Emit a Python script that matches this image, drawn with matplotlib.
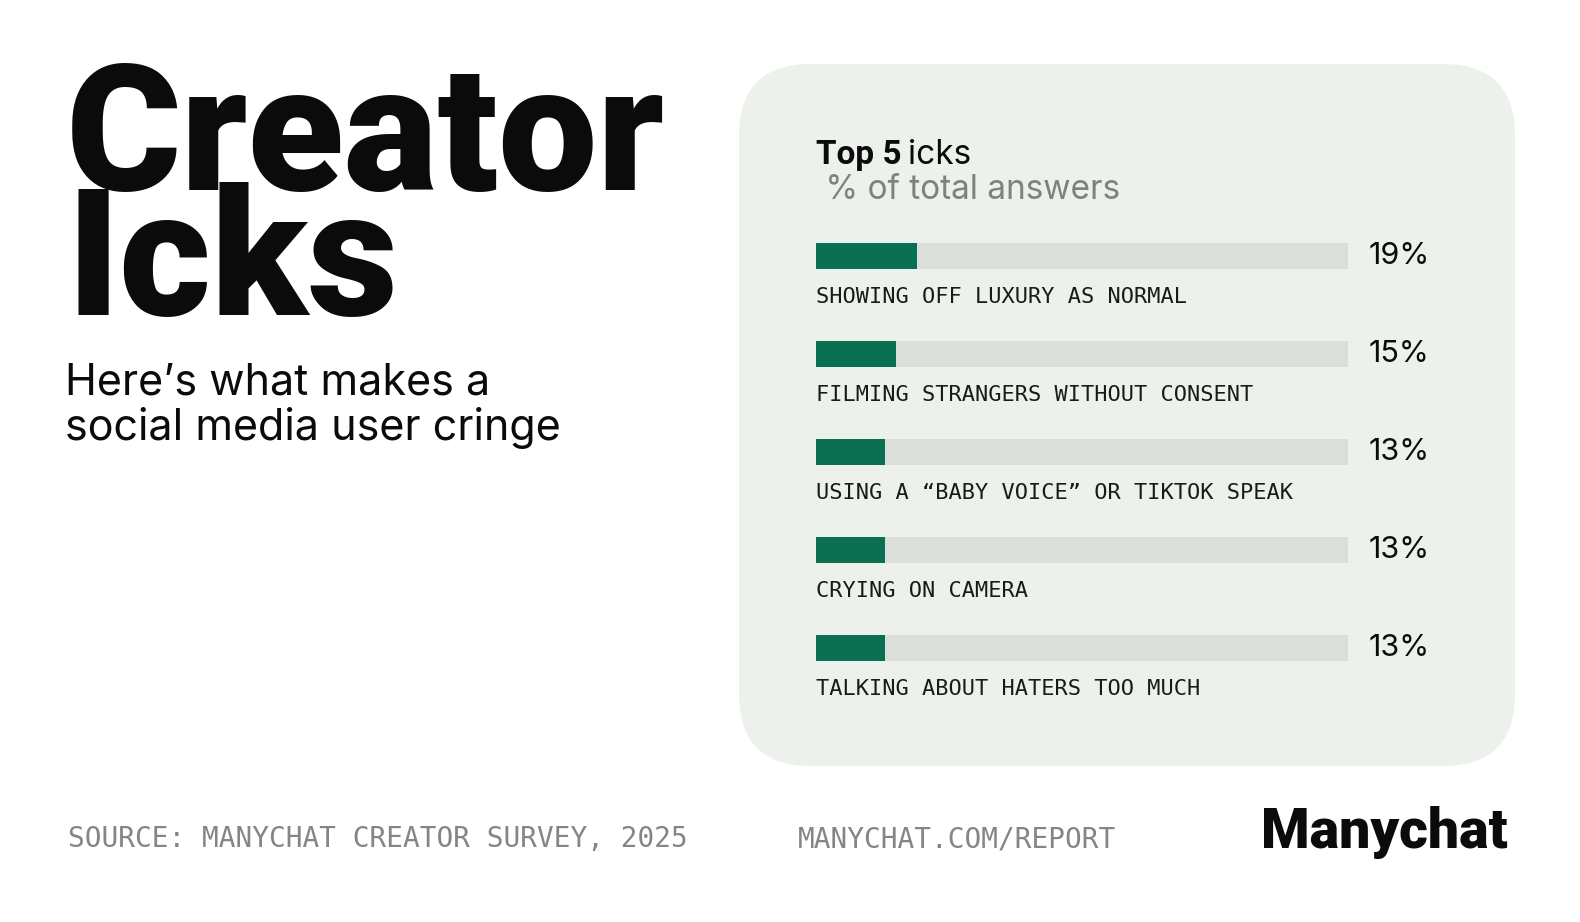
import matplotlib
matplotlib.use("Agg")
import matplotlib.pyplot as plt
from matplotlib.patches import FancyBboxPatch

# data
categories = [
    "SHOWING OFF LUXURY AS NORMAL",
    "FILMING STRANGERS WITHOUT CONSENT",
    "USING A \u201cBABY VOICE\u201d OR TIKTOK SPEAK",
    "CRYING ON CAMERA",
    "TALKING ABOUT HATERS TOO MUCH",
]
values = [19, 15, 13, 13, 13]
value_labels = ["19%", "15%", "13%", "13%", "13%"]

title_lines = ["Creator", "Icks"]
subtitle_lines = ["Here\u2019s what makes a", "social media user cringe"]
source_text = "SOURCE: MANYCHAT CREATOR SURVEY, 2025"
url_text = "MANYCHAT.COM/REPORT"

GREEN = "#0b6f52"
TRACK = "#dbdfda"
PANEL = "#edf1ec"
INK = "#0b0b0b"
GREY = "#7d827e"

SANS = ["Roboto", "DejaVu Sans"]
BODY = ["Inter", "Roboto", "DejaVu Sans"]
MONO = ["DejaVu Sans Mono"]

W, H = 1580, 922
fig = plt.figure(figsize=(W / 100, H / 100), dpi=100)
fig.patch.set_facecolor("white")

# background axes in pixel coordinates
bg = fig.add_axes([0, 0, 1, 1])
bg.set_xlim(0, W)
bg.set_ylim(H, 0)
bg.axis("off")

# big title
bg.text(66, 190, title_lines[0], fontsize=127, fontweight="black", family=SANS,
        color=INK, va="baseline", ha="left", zorder=1)
bg.text(66, 315, title_lines[1], fontsize=127, fontweight="black", family=SANS,
        color=INK, va="baseline", ha="left", zorder=1)

# panel
panel = FancyBboxPatch((739, 64), 1515 - 739, 766 - 64,
                       boxstyle="round,pad=0,rounding_size=72",
                       facecolor=PANEL, edgecolor="none", zorder=2)
bg.add_patch(panel)

# subtitle
bg.text(65, 394, subtitle_lines[0], fontsize=31, family=BODY, color=INK, va="baseline")
bg.text(65, 440, subtitle_lines[1], fontsize=31, family=BODY, color=INK, va="baseline")

# chart heading
t1 = bg.text(816, 164, "Top 5", fontsize=24, fontweight="bold", family=SANS,
             color=INK, va="baseline", zorder=3)
fig.canvas.draw()
bb = t1.get_window_extent()
bg.text(816 + bb.width + 6, 164, "icks", fontsize=24, family=BODY,
        color=INK, va="baseline", zorder=3)
bg.text(816, 199, " % of total answers", fontsize=24, family=BODY,
        color=GREY, va="baseline", zorder=3)

# footer
bg.text(68, 847, source_text, fontsize=20, family=MONO, color="#858585", va="baseline")
bg.text(798, 847, url_text, fontsize=20, family=MONO, color="#858585", va="baseline")
bg.text(1508, 848, "Manychat", fontsize=40, fontweight="black", family=SANS,
        color=INK, va="baseline", ha="right")

# bar chart axes
x0, x1 = 816, 1348
c0, step = 256, 98
top = c0 - step / 2
bottom = c0 + step * (len(values) - 1) + step / 2
ax = fig.add_axes([x0 / W, 1 - bottom / H, (x1 - x0) / W, (bottom - top) / H])
ax.set_zorder(5)
ax.patch.set_alpha(0)
ax.set_xlim(0, 100)
ax.set_ylim(len(values) - 0.5, -0.5)
ax.axis("off")

ypos = list(range(len(values)))
ax.barh(ypos, [100] * len(values), height=0.27, color=TRACK)
ax.barh(ypos, values, height=0.27, color=GREEN)
for y, lab, vl in zip(ypos, categories, value_labels):
    ax.text(0, y + 0.42, lab, fontsize=15.8, family=MONO, color="#1a1a1a",
            va="center", ha="left", clip_on=False)
    ax.text(103.8, y, vl, fontsize=22, family=BODY, color=INK,
            va="center", ha="left", clip_on=False)

fig.savefig("out.png", dpi=100, facecolor="white")
